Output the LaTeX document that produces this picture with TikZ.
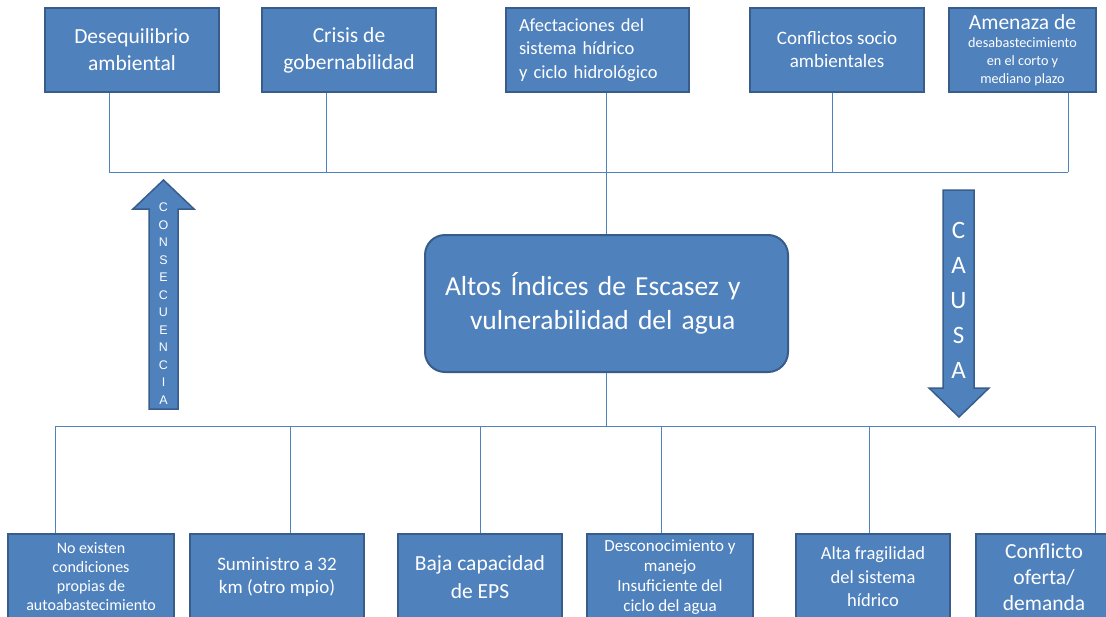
\documentclass[tikz,border=0pt]{standalone}
\usepackage{fontspec}
\setmainfont{Carlito}
\newfontfamily\arialfont{Liberation Sans}
\definecolor{boxfill}{HTML}{4F81BD}
\definecolor{boxedge}{HTML}{385D8A}
\definecolor{linec}{HTML}{4F81BD}
\newcommand\fsz[2]{\fontsize{#1}{#2}\selectfont}
\begin{document}
\begin{tikzpicture}[x=1pt,y=-1pt,
  box/.style={draw=boxedge, fill=boxfill, line width=2pt, text=white, inner sep=0pt, align=center},
  conn/.style={draw=linec, line width=1pt},
  bigarrow/.style={draw=boxedge, fill=boxfill, line width=1.5pt, line join=miter},
  arrowtext/.style={text=white, inner sep=0pt, align=center}]
\useasboundingbox (0,0) rectangle (1106,616);
\clip (0,0) rectangle (1106,616);

% top boxes
\node[box, minimum width=174, minimum height=84, font=\fsz{21.5}{27}] (b1) at (132,50) {Desequilibrio\\ambiental};
\node[box, minimum width=174, minimum height=84, font=\fsz{21.5}{27}] (b2) at (349,50) {Crisis de\\gobernabilidad};
\node[box, minimum width=183, minimum height=84, text width=157, align=left, font=\fsz{18.5}{23.5}] (b3) at (597.5,50) {Afectaciones del\\sistema hídrico\\y ciclo hidrológico};
\node[box, minimum width=174, minimum height=84, font=\fsz{19}{23}] (b4) at (837,50) {Conflictos socio\\ambientales};
\node[box, minimum width=147, minimum height=84, font=\fsz{14.2}{18}] (b5) at (1022.5,50) {\raisebox{0pt}[0pt][0pt]{}{\fsz{21.5}{20}Amenaza de}\\desabastecimiento\\en el corto y\\mediano plazo};

% central box
\node[box, rounded corners=20pt, minimum width=363, minimum height=137, text width=323, align=left, font=\fsz{27.5}{34}] (c) at (606.5,303.5)
  {Altos Índices de Escasez y\\\hspace*{25pt}vulnerabilidad del agua};

% bottom boxes (cut by the lower edge of the picture)
\node[box, minimum width=166, minimum height=86, font=\fsz{16}{19}] (d1) at (91,577) {No existen\\condiciones\\propias de\\autoabastecimiento};
\node[box, minimum width=174, minimum height=86, font=\fsz{19}{23}] (d2) at (277,577) {Suministro a 32\\km (otro mpio)};
\node[box, minimum width=164, minimum height=86, font=\fsz{21.5}{28}] (d3) at (480,577) {Baja capacidad\\de EPS};
\node[box, minimum width=166, minimum height=86, font=\fsz{17}{20}] (d4) at (670,577) {Desconocimiento y\\manejo\\Insuficiente del\\ciclo del agua};
\node[box, minimum width=154, minimum height=86, font=\fsz{18.5}{23.5}] (d5) at (873,577) {Alta fragilidad\\del sistema\\hídrico};
\node[box, minimum width=136, minimum height=86, font=\fsz{21.5}{26}] (d6) at (1044,577) {Conflicto\\oferta/\\demanda};

% top bus
\coordinate (t1) at (109,172);
\coordinate (t2) at (326,172);
\coordinate (t4) at (832,172);
\coordinate (t5) at (1068,172);
\draw[conn] (t1) -- (t5);
\draw[conn] (t1 |- b1.south) -- (t1);
\draw[conn] (t2 |- b2.south) -- (t2);
\draw[conn] (c.north |- b3.south) -- (c.north);
\draw[conn] (t4 |- b4.south) -- (t4);
\draw[conn] (t5 |- b5.south) -- (t5);

% bottom bus
\coordinate (u1) at (55,426);
\coordinate (u2) at (290,426);
\coordinate (u3) at (480,426);
\coordinate (u4) at (661,426);
\coordinate (u5) at (869,426);
\coordinate (u6) at (1095,426);
\draw[conn] (u1) -- (u6);
\draw[conn] (c.south) -- (c.south |- u1);
\draw[conn] (u1) -- (u1 |- d1.north);
\draw[conn] (u2) -- (u2 |- d2.north);
\draw[conn] (u3) -- (u3 |- d3.north);
\draw[conn] (u4) -- (u4 |- d4.north);
\draw[conn] (u5) -- (u5 |- d5.north);
\draw[conn] (u6) -- (u6 |- d6.north);

% CONSECUENCIA arrow (up)
\draw[bigarrow] (163.5,180) -- (194,209) -- (178,209) -- (178,409) -- (149,409) -- (149,209) -- (133,209) -- cycle;
\node[arrowtext, font=\arialfont\fsz{12.5}{17.5}] (cons) at (163.5,303.5) {C\\O\\N\\S\\E\\C\\U\\E\\N\\C\\I\\A};

% CAUSA arrow (down)
\draw[bigarrow] (943,190) -- (974,190) -- (974,388) -- (989,388) -- (959,417) -- (929,388) -- (943,388) -- cycle;
\node[arrowtext, font=\fsz{25}{35}] (causa) at (958.5,300) {C\\A\\U\\S\\A};
\end{tikzpicture}
\end{document}
